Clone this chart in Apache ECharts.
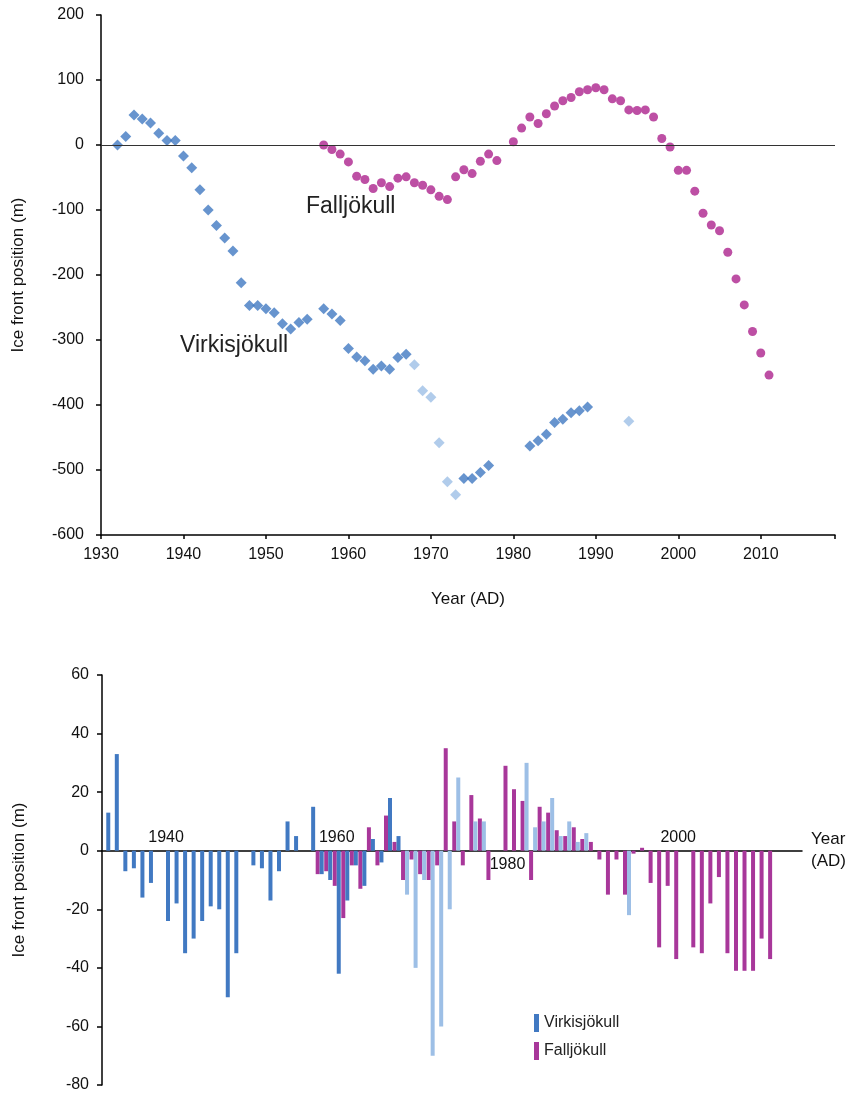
<!DOCTYPE html>
<html>
<head>
<meta charset="utf-8">
<script src="https://cdn.jsdelivr.net/npm/echarts@6/dist/echarts.min.js"></script>
<style>
  html, body { margin: 0; padding: 0; background: #fff; }
  #chart { width: 850px; height: 1095px; }
</style>
</head>
<body>
<div id="chart"></div>
<script>
  // ice front position (m), top panel
  const virkisYears = [1932,1933,1934,1935,1936,1937,1938,1939,1940,1941,1942,1943,1944,1945,1946,1947,1948,1949,1950,1951,1952,1953,1954,1955,1957,1958,1959,1960,1961,1962,1963,1964,1965,1966,1967,1968,1969,1970,1971,1972,1973,1974,1975,1976,1977,1982,1983,1984,1985,1986,1987,1988,1989,1994];
  const virkisPos = [0,13,46,40,34,18,7,7,-17,-35,-69,-100,-124,-143,-163,-212,-247,-247,-252,-258,-275,-283,-273,-268,-252,-260,-270,-313,-326,-332,-345,-340,-345,-327,-322,-338,-378,-388,-458,-518,-538,-513,-513,-504,-493,-463,-455,-445,-427,-422,-412,-409,-403,-425];
  const virkisLightYears = [1968,1969,1970,1971,1972,1973,1994];

  const fallYears = [1957,1958,1959,1960,1961,1962,1963,1964,1965,1966,1967,1968,1969,1970,1971,1972,1973,1974,1975,1976,1977,1978,1980,1981,1982,1983,1984,1985,1986,1987,1988,1989,1990,1991,1992,1993,1994,1995,1996,1997,1998,1999,2000,2001,2002,2003,2004,2005,2006,2007,2008,2009,2010,2011];
  const fallPos = [0,-7,-14,-26,-48,-53,-67,-58,-64,-51,-49,-58,-62,-69,-79,-84,-49,-38,-44,-25,-14,-24,5,26,43,33,48,60,68,73,82,85,88,85,71,68,54,53,54,43,10,-3,-39,-39,-71,-105,-123,-132,-165,-206,-246,-287,-320,-354];

  // annual change (m), bottom panel
  const virkisChangeYears = [1933,1934,1935,1936,1937,1938,1940,1941,1942,1943,1944,1945,1946,1947,1948,1950,1951,1952,1953,1954,1955,1957,1958,1959,1960,1961,1962,1963,1964,1965,1966,1967,1968,1969,1970,1971,1972,1973,1974,1976,1977,1982,1983,1984,1985,1986,1987,1988,1989,1994];
  const virkisChange = [13,33,-7,-6,-16,-11,-24,-18,-35,-30,-24,-19,-20,-50,-35,-5,-6,-17,-7,10,5,15,-8,-10,-42,-17,-5,-12,4,-4,18,5,-15,-40,-10,-70,-60,-20,25,10,10,30,8,10,18,5,10,3,6,-22];
  const virkisChangeLightFrom = 1968;

  const fallChangeYears = [1958,1959,1960,1961,1962,1963,1964,1965,1966,1967,1968,1969,1970,1971,1972,1973,1974,1975,1976,1977,1978,1980,1981,1982,1983,1984,1985,1986,1987,1988,1989,1990,1991,1992,1993,1994,1995,1996,1997,1998,1999,2000,2002,2003,2004,2005,2006,2007,2008,2009,2010,2011];
  const fallChange = [-8,-7,-12,-23,-5,-13,8,-5,12,3,-10,-3,-8,-10,-5,35,10,-5,19,11,-10,29,21,17,-10,15,13,7,5,8,4,3,-3,-15,-3,-15,-1,1,-11,-33,-12,-37,-33,-35,-18,-9,-35,-41,-41,-41,-30,-37];

  const barFirstYear = 1933;
  const barLastYear = 2014;
  const barLabelYears = ['1940', '1960', '1980', '2000'];
  const barLabelsBelow = ['1980'];
  const changeMin = -80;
  const changeMax = 60;

  const DARK_BLUE = '#4179c2';
  const LIGHT_BLUE = '#9dbfe6';
  const PINK = '#bd4fa4';
  const MAGENTA = '#a8379a';
  const FONT = 'Liberation Sans, Arial, sans-serif';

  const barCategories = [];
  for (let y = barFirstYear; y <= barLastYear; y++) barCategories.push(String(y));

  function alignToCategories(years, values, colorFn) {
    const out = barCategories.map(() => null);
    years.forEach((y, i) => {
      const idx = barCategories.indexOf(String(y));
      if (idx < 0) return;
      out[idx] = colorFn ? { value: values[i], itemStyle: { color: colorFn(y) } } : values[i];
    });
    return out;
  }

  const chart = echarts.init(document.getElementById('chart'));

  const bottomGridHeight = 410;
  // lift the category axis from the grid bottom up to the zero line
  const zeroOffset = -bottomGridHeight * (0 - changeMin) / (changeMax - changeMin);

  const axisLine = { lineStyle: { color: '#000', width: 1.5 } };
  const labelStyle = { color: '#111', fontSize: 16, fontFamily: FONT };
  const nameStyle = { color: '#111', fontSize: 17, fontFamily: FONT };

  chart.setOption({
    backgroundColor: '#fff',
    animation: false,
    textStyle: { fontFamily: FONT },
    grid: [
      { left: 101, top: 15, right: 15, height: 520, outerBoundsMode: 'none', containLabel: false },
      { left: 102, top: 675, right: 48, height: bottomGridHeight, outerBoundsMode: 'none', containLabel: false }
    ],
    xAxis: [{
      gridIndex: 0,
      type: 'value',
      min: 1930,
      max: 2019,
      interval: 10,
      axisLine: Object.assign({ onZero: false }, axisLine),
      axisTick: { length: 4, lineStyle: { color: '#000', width: 1.5 } },
      axisLabel: Object.assign({ margin: 12, formatter: v => (v % 10 === 0 ? String(v) : '') }, labelStyle),
      splitLine: { show: false },
      name: 'Year (AD)',
      nameLocation: 'middle',
      nameGap: 56,
      nameTextStyle: nameStyle
    }, {
      gridIndex: 1,
      type: 'category',
      data: barCategories.map(c => {
        if (barLabelsBelow.includes(c)) return { value: c, textStyle: { verticalAlign: 'top' } };
        return { value: c, textStyle: { verticalAlign: 'bottom', padding: [0, 0, 11, 0] } };
      }),
      boundaryGap: true,
      offset: zeroOffset,
      axisLine: Object.assign({ onZero: false }, axisLine),
      axisTick: {
        alignWithLabel: true,
        length: 5,
        interval: (i, v) => barLabelYears.includes(v),
        lineStyle: { color: '#000', width: 1.5 }
      },
      axisLabel: Object.assign({
        margin: 6,
        interval: (i, v) => barLabelYears.includes(v)
      }, labelStyle),
      splitLine: { show: false },
      name: 'Year\n(AD)',
      nameLocation: 'end',
      nameGap: 9,
      nameTextStyle: Object.assign({}, nameStyle, { align: 'left', lineHeight: 22 })
    }],
    yAxis: [{
      gridIndex: 0,
      type: 'value',
      min: -600,
      max: 200,
      interval: 100,
      axisLine: Object.assign({ show: true, onZero: false }, axisLine),
      axisTick: { show: true, length: 5, lineStyle: { color: '#000', width: 1.5 } },
      axisLabel: Object.assign({ margin: 17 }, labelStyle),
      splitLine: { show: false },
      name: 'Ice front position (m)',
      nameLocation: 'middle',
      nameRotate: 90,
      nameGap: 74,
      nameTextStyle: nameStyle
    }, {
      gridIndex: 1,
      type: 'value',
      min: changeMin,
      max: changeMax,
      interval: 20,
      axisLine: Object.assign({ show: true, onZero: false }, axisLine),
      axisTick: { show: true, length: 5, lineStyle: { color: '#000', width: 1.5 } },
      axisLabel: Object.assign({ margin: 13 }, labelStyle),
      splitLine: { show: false },
      name: 'Ice front position (m)',
      nameLocation: 'middle',
      nameRotate: 90,
      nameGap: 74,
      nameTextStyle: nameStyle
    }],
    legend: {
      data: ['Virkisjökull', 'Falljökull'],
      orient: 'vertical',
      left: 529,
      top: 1009,
      icon: 'rect',
      itemWidth: 5,
      itemHeight: 18,
      itemGap: 10,
      textStyle: { color: '#222', fontSize: 16, fontFamily: FONT }
    },
    graphic: [
      { type: 'text', left: 306, top: 195, style: { text: 'Falljökull', fill: '#222', font: '23px ' + FONT } },
      { type: 'text', left: 180, top: 334, style: { text: 'Virkisjökull', fill: '#222', font: '23px ' + FONT } }
    ],
    series: [{
      name: 'Falljökull position',
      type: 'scatter',
      xAxisIndex: 0,
      yAxisIndex: 0,
      symbol: 'circle',
      symbolSize: 9,
      itemStyle: { color: PINK, opacity: 1 },
      data: fallYears.map((y, i) => [y, fallPos[i]]),
      markLine: {
        silent: true,
        symbol: 'none',
        label: { show: false },
        lineStyle: { color: '#333', width: 1, type: 'solid' },
        data: [{ yAxis: 0 }]
      }
    }, {
      name: 'Virkisjökull position',
      type: 'scatter',
      xAxisIndex: 0,
      yAxisIndex: 0,
      symbol: 'diamond',
      symbolSize: 11,
      data: virkisYears.map((y, i) => ({
        value: [y, virkisPos[i]],
        itemStyle: { color: virkisLightYears.includes(y) ? LIGHT_BLUE : DARK_BLUE }
      }))
    }, {
      name: 'Falljökull',
      type: 'bar',
      xAxisIndex: 1,
      yAxisIndex: 1,
      barWidth: 4,
      barGap: '0%',
      itemStyle: { color: MAGENTA },
      data: alignToCategories(fallChangeYears, fallChange)
    }, {
      name: 'Virkisjökull',
      type: 'bar',
      xAxisIndex: 1,
      yAxisIndex: 1,
      barWidth: 4,
      barGap: '0%',
      itemStyle: { color: DARK_BLUE },
      data: alignToCategories(virkisChangeYears, virkisChange,
        y => (y >= virkisChangeLightFrom ? LIGHT_BLUE : DARK_BLUE))
    }]
  });
</script>
</body>
</html>
